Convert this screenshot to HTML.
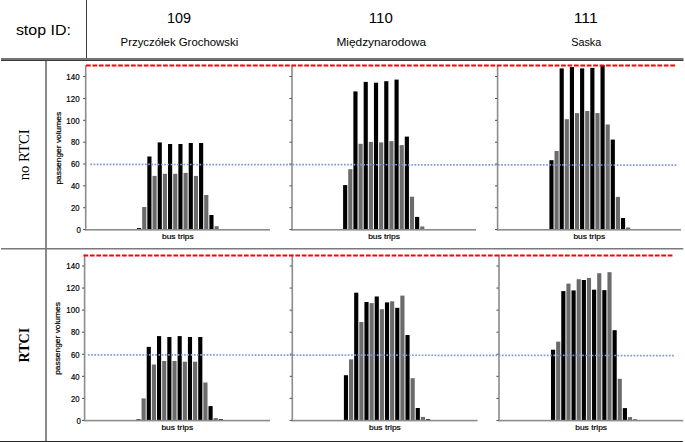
<!DOCTYPE html>
<html><head><meta charset="utf-8"><title>stop ID chart grid</title>
<style>
html,body{margin:0;padding:0;background:#fff;}
body{width:685px;height:442px;overflow:hidden;position:relative;}
svg{position:absolute;left:0;top:0;display:block;}
text{font-family:"Liberation Sans",sans-serif;fill:#000;}
text.ct{stroke:#000;stroke-width:0.2px;}
text.serif{font-family:"Liberation Serif",serif;}
</style></head><body>
<svg width="685" height="442" viewBox="0 0 685 442">
<rect x="86" y="0" width="1" height="58" fill="#3a3a3a"/>
<rect x="1" y="58" width="682.5" height="2" fill="#747474"/>
<rect x="1" y="60" width="682.5" height="1" fill="#383838"/>
<rect x="45" y="61" width="2" height="380" fill="#8a8a8a"/>
<rect x="1" y="248" width="682.3" height="1.5" fill="#7a7a7a"/>
<rect x="0" y="441" width="683" height="1" fill="#262626"/>
<rect x="137" y="228.1" width="4.15" height="1.5" fill="#000"/>
<rect x="142.17" y="207" width="4.15" height="22.6" fill="#6b6b6b"/>
<rect x="147.34" y="156.5" width="4.15" height="73.1" fill="#000"/>
<rect x="152.51" y="175.9" width="4.15" height="53.7" fill="#6b6b6b"/>
<rect x="157.68" y="142.4" width="4.15" height="87.2" fill="#000"/>
<rect x="162.85" y="173.8" width="4.15" height="55.8" fill="#6b6b6b"/>
<rect x="168.02" y="144" width="4.15" height="85.6" fill="#000"/>
<rect x="173.19" y="173.8" width="4.15" height="55.8" fill="#6b6b6b"/>
<rect x="178.36" y="144" width="4.15" height="85.6" fill="#000"/>
<rect x="183.53" y="172.9" width="4.15" height="56.7" fill="#6b6b6b"/>
<rect x="188.7" y="143" width="4.15" height="86.6" fill="#000"/>
<rect x="193.87" y="175.9" width="4.15" height="53.7" fill="#6b6b6b"/>
<rect x="199.04" y="143" width="4.15" height="86.6" fill="#000"/>
<rect x="204.21" y="195" width="4.15" height="34.6" fill="#6b6b6b"/>
<rect x="209.38" y="215" width="4.15" height="14.6" fill="#000"/>
<rect x="214.55" y="226.2" width="4.15" height="3.4" fill="#6b6b6b"/>
<rect x="84.9" y="65.2" width="1.6" height="165.1" fill="#8c8c8c"/>
<rect x="84.9" y="229" width="185.1" height="1.6" fill="#8c8c8c"/>
<rect x="83.1" y="229.15" width="2.2" height="0.9" fill="#3c3c3c"/>
<rect x="83.1" y="207.29" width="2.2" height="0.9" fill="#3c3c3c"/>
<rect x="83.1" y="185.43" width="2.2" height="0.9" fill="#3c3c3c"/>
<rect x="83.1" y="163.57" width="2.2" height="0.9" fill="#3c3c3c"/>
<rect x="83.1" y="141.71" width="2.2" height="0.9" fill="#3c3c3c"/>
<rect x="83.1" y="119.85" width="2.2" height="0.9" fill="#3c3c3c"/>
<rect x="83.1" y="97.99" width="2.2" height="0.9" fill="#3c3c3c"/>
<rect x="83.1" y="76.13" width="2.2" height="0.9" fill="#3c3c3c"/>
<text class="ct" x="177.85" y="239" font-size="7.9" text-anchor="middle" textLength="31.7" lengthAdjust="spacingAndGlyphs">bus trips</text>
<text class="ct" x="81" y="232.9" font-size="9" text-anchor="end" textLength="4.4" lengthAdjust="spacingAndGlyphs">0</text>
<text class="ct" x="79.6" y="211.04" font-size="9" text-anchor="end" textLength="8.6" lengthAdjust="spacingAndGlyphs">20</text>
<text class="ct" x="79.6" y="189.18" font-size="9" text-anchor="end" textLength="8.6" lengthAdjust="spacingAndGlyphs">40</text>
<text class="ct" x="79.6" y="167.32" font-size="9" text-anchor="end" textLength="8.6" lengthAdjust="spacingAndGlyphs">60</text>
<text class="ct" x="79.6" y="145.46" font-size="9" text-anchor="end" textLength="8.6" lengthAdjust="spacingAndGlyphs">80</text>
<text class="ct" x="79.6" y="123.6" font-size="9" text-anchor="end" textLength="13.3" lengthAdjust="spacingAndGlyphs">100</text>
<text class="ct" x="79.6" y="101.74" font-size="9" text-anchor="end" textLength="13.3" lengthAdjust="spacingAndGlyphs">120</text>
<text class="ct" x="79.6" y="79.88" font-size="9" text-anchor="end" textLength="13.3" lengthAdjust="spacingAndGlyphs">140</text>
<text class="ct" transform="translate(61.3,148.25) rotate(-90)" font-size="7.8" text-anchor="middle" textLength="72.7" lengthAdjust="spacingAndGlyphs">passenger volumes</text>
<rect x="343.1" y="185.1" width="4.15" height="44.5" fill="#000"/>
<rect x="348.24" y="169.2" width="4.15" height="60.4" fill="#6b6b6b"/>
<rect x="353.38" y="91.4" width="4.15" height="138.2" fill="#000"/>
<rect x="358.52" y="143.8" width="4.15" height="85.8" fill="#6b6b6b"/>
<rect x="363.66" y="81.9" width="4.15" height="147.7" fill="#000"/>
<rect x="368.8" y="141.9" width="4.15" height="87.7" fill="#6b6b6b"/>
<rect x="373.94" y="82.7" width="4.15" height="146.9" fill="#000"/>
<rect x="379.08" y="142.4" width="4.15" height="87.2" fill="#6b6b6b"/>
<rect x="384.22" y="81.2" width="4.15" height="148.4" fill="#000"/>
<rect x="389.36" y="141.1" width="4.15" height="88.5" fill="#6b6b6b"/>
<rect x="394.5" y="79.6" width="4.15" height="150" fill="#000"/>
<rect x="399.64" y="145.1" width="4.15" height="84.5" fill="#6b6b6b"/>
<rect x="404.78" y="136.6" width="4.15" height="93" fill="#000"/>
<rect x="409.92" y="196.7" width="4.15" height="32.9" fill="#6b6b6b"/>
<rect x="415.06" y="216.9" width="4.15" height="12.7" fill="#000"/>
<rect x="420.2" y="226.5" width="4.15" height="3.1" fill="#6b6b6b"/>
<rect x="291.2" y="65.2" width="1.6" height="165.1" fill="#8c8c8c"/>
<rect x="291.2" y="229" width="184.8" height="1.6" fill="#8c8c8c"/>
<rect x="289.4" y="229.15" width="2.2" height="0.9" fill="#3c3c3c"/>
<rect x="289.4" y="207.29" width="2.2" height="0.9" fill="#3c3c3c"/>
<rect x="289.4" y="185.43" width="2.2" height="0.9" fill="#3c3c3c"/>
<rect x="289.4" y="163.57" width="2.2" height="0.9" fill="#3c3c3c"/>
<rect x="289.4" y="141.71" width="2.2" height="0.9" fill="#3c3c3c"/>
<rect x="289.4" y="119.85" width="2.2" height="0.9" fill="#3c3c3c"/>
<rect x="289.4" y="97.99" width="2.2" height="0.9" fill="#3c3c3c"/>
<rect x="289.4" y="76.13" width="2.2" height="0.9" fill="#3c3c3c"/>
<text class="ct" x="384" y="239" font-size="7.9" text-anchor="middle" textLength="31.7" lengthAdjust="spacingAndGlyphs">bus trips</text>
<rect x="549.4" y="160.2" width="4.15" height="69.4" fill="#000"/>
<rect x="554.51" y="151" width="4.15" height="78.6" fill="#6b6b6b"/>
<rect x="559.62" y="68.4" width="4.15" height="161.2" fill="#000"/>
<rect x="564.73" y="119.2" width="4.15" height="110.4" fill="#6b6b6b"/>
<rect x="569.84" y="67.1" width="4.15" height="162.5" fill="#000"/>
<rect x="574.95" y="113.1" width="4.15" height="116.5" fill="#6b6b6b"/>
<rect x="580.06" y="68.4" width="4.15" height="161.2" fill="#000"/>
<rect x="585.17" y="111" width="4.15" height="118.6" fill="#6b6b6b"/>
<rect x="590.28" y="67.9" width="4.15" height="161.7" fill="#000"/>
<rect x="595.39" y="113.1" width="4.15" height="116.5" fill="#6b6b6b"/>
<rect x="600.5" y="65.2" width="4.15" height="164.4" fill="#000"/>
<rect x="605.61" y="124.5" width="4.15" height="105.1" fill="#6b6b6b"/>
<rect x="610.72" y="139.6" width="4.15" height="90" fill="#000"/>
<rect x="615.83" y="196.9" width="4.15" height="32.7" fill="#6b6b6b"/>
<rect x="620.94" y="218" width="4.15" height="11.6" fill="#000"/>
<rect x="626.05" y="227.5" width="4.15" height="2.1" fill="#6b6b6b"/>
<rect x="496.8" y="65.2" width="1.6" height="165.1" fill="#8c8c8c"/>
<rect x="496.8" y="229" width="184.2" height="1.6" fill="#8c8c8c"/>
<rect x="495" y="229.15" width="2.2" height="0.9" fill="#3c3c3c"/>
<rect x="495" y="207.29" width="2.2" height="0.9" fill="#3c3c3c"/>
<rect x="495" y="185.43" width="2.2" height="0.9" fill="#3c3c3c"/>
<rect x="495" y="163.57" width="2.2" height="0.9" fill="#3c3c3c"/>
<rect x="495" y="141.71" width="2.2" height="0.9" fill="#3c3c3c"/>
<rect x="495" y="119.85" width="2.2" height="0.9" fill="#3c3c3c"/>
<rect x="495" y="97.99" width="2.2" height="0.9" fill="#3c3c3c"/>
<rect x="495" y="76.13" width="2.2" height="0.9" fill="#3c3c3c"/>
<text class="ct" x="589.3" y="239" font-size="7.9" text-anchor="middle" textLength="31.7" lengthAdjust="spacingAndGlyphs">bus trips</text>
<line x1="86" y1="65.5" x2="675.5" y2="65.5" stroke="#ff0000" stroke-width="1.8" stroke-dasharray="4.75 1.67"/>
<line x1="90.35" y1="164.4" x2="676.3" y2="165.1" stroke="#7d99dd" stroke-width="1.7" stroke-dasharray="1.7 1.51"/>
<rect x="136.4" y="419.3" width="4.15" height="1.1" fill="#000"/>
<rect x="141.55" y="398.4" width="4.15" height="22" fill="#6b6b6b"/>
<rect x="146.7" y="346.9" width="4.15" height="73.5" fill="#000"/>
<rect x="151.85" y="364.5" width="4.15" height="55.9" fill="#6b6b6b"/>
<rect x="157" y="336.1" width="4.15" height="84.3" fill="#000"/>
<rect x="162.15" y="361" width="4.15" height="59.4" fill="#6b6b6b"/>
<rect x="167.3" y="337" width="4.15" height="83.4" fill="#000"/>
<rect x="172.45" y="361" width="4.15" height="59.4" fill="#6b6b6b"/>
<rect x="177.6" y="336.1" width="4.15" height="84.3" fill="#000"/>
<rect x="182.75" y="361.7" width="4.15" height="58.7" fill="#6b6b6b"/>
<rect x="187.9" y="337" width="4.15" height="83.4" fill="#000"/>
<rect x="193.05" y="361.7" width="4.15" height="58.7" fill="#6b6b6b"/>
<rect x="198.2" y="337" width="4.15" height="83.4" fill="#000"/>
<rect x="203.35" y="382.5" width="4.15" height="37.9" fill="#6b6b6b"/>
<rect x="208.5" y="406.1" width="4.15" height="14.3" fill="#000"/>
<rect x="213.65" y="418.1" width="4.15" height="2.3" fill="#6b6b6b"/>
<rect x="218.8" y="419.2" width="4.15" height="1.2" fill="#000"/>
<rect x="83.8" y="254.5" width="1.6" height="166.6" fill="#8c8c8c"/>
<rect x="83.8" y="419.8" width="186.2" height="1.6" fill="#8c8c8c"/>
<rect x="82" y="419.95" width="2.2" height="0.9" fill="#3c3c3c"/>
<rect x="82" y="397.89" width="2.2" height="0.9" fill="#3c3c3c"/>
<rect x="82" y="375.83" width="2.2" height="0.9" fill="#3c3c3c"/>
<rect x="82" y="353.77" width="2.2" height="0.9" fill="#3c3c3c"/>
<rect x="82" y="331.71" width="2.2" height="0.9" fill="#3c3c3c"/>
<rect x="82" y="309.65" width="2.2" height="0.9" fill="#3c3c3c"/>
<rect x="82" y="287.59" width="2.2" height="0.9" fill="#3c3c3c"/>
<rect x="82" y="265.53" width="2.2" height="0.9" fill="#3c3c3c"/>
<text class="ct" x="177.3" y="429.7" font-size="7.9" text-anchor="middle" textLength="31.7" lengthAdjust="spacingAndGlyphs">bus trips</text>
<text class="ct" x="81" y="423.7" font-size="9" text-anchor="end" textLength="4.4" lengthAdjust="spacingAndGlyphs">0</text>
<text class="ct" x="79.6" y="401.64" font-size="9" text-anchor="end" textLength="8.6" lengthAdjust="spacingAndGlyphs">20</text>
<text class="ct" x="79.6" y="379.58" font-size="9" text-anchor="end" textLength="8.6" lengthAdjust="spacingAndGlyphs">40</text>
<text class="ct" x="79.6" y="357.52" font-size="9" text-anchor="end" textLength="8.6" lengthAdjust="spacingAndGlyphs">60</text>
<text class="ct" x="79.6" y="335.46" font-size="9" text-anchor="end" textLength="8.6" lengthAdjust="spacingAndGlyphs">80</text>
<text class="ct" x="79.6" y="313.4" font-size="9" text-anchor="end" textLength="13.3" lengthAdjust="spacingAndGlyphs">100</text>
<text class="ct" x="79.6" y="291.34" font-size="9" text-anchor="end" textLength="13.3" lengthAdjust="spacingAndGlyphs">120</text>
<text class="ct" x="79.6" y="269.28" font-size="9" text-anchor="end" textLength="13.3" lengthAdjust="spacingAndGlyphs">140</text>
<text class="ct" transform="translate(60.3,338.5) rotate(-90)" font-size="7.8" text-anchor="middle" textLength="72.7" lengthAdjust="spacingAndGlyphs">passenger volumes</text>
<rect x="343.9" y="375.2" width="4.15" height="45.2" fill="#000"/>
<rect x="349.03" y="359.4" width="4.15" height="61" fill="#6b6b6b"/>
<rect x="354.16" y="292.7" width="4.15" height="127.7" fill="#000"/>
<rect x="359.29" y="322" width="4.15" height="98.4" fill="#6b6b6b"/>
<rect x="364.42" y="302" width="4.15" height="118.4" fill="#000"/>
<rect x="369.55" y="303.1" width="4.15" height="117.3" fill="#6b6b6b"/>
<rect x="374.68" y="296.5" width="4.15" height="123.9" fill="#000"/>
<rect x="379.81" y="309.2" width="4.15" height="111.2" fill="#6b6b6b"/>
<rect x="384.94" y="302.4" width="4.15" height="118" fill="#000"/>
<rect x="390.07" y="301.3" width="4.15" height="119.1" fill="#6b6b6b"/>
<rect x="395.2" y="307.8" width="4.15" height="112.6" fill="#000"/>
<rect x="400.33" y="295.6" width="4.15" height="124.8" fill="#6b6b6b"/>
<rect x="405.46" y="335" width="4.15" height="85.4" fill="#000"/>
<rect x="410.59" y="378.2" width="4.15" height="42.2" fill="#6b6b6b"/>
<rect x="415.72" y="408" width="4.15" height="12.4" fill="#000"/>
<rect x="420.85" y="416.9" width="4.15" height="3.5" fill="#6b6b6b"/>
<rect x="425.98" y="419.2" width="4.15" height="1.2" fill="#000"/>
<rect x="291.5" y="254.5" width="1.6" height="166.6" fill="#8c8c8c"/>
<rect x="291.5" y="419.8" width="186" height="1.6" fill="#8c8c8c"/>
<rect x="289.7" y="419.95" width="2.2" height="0.9" fill="#3c3c3c"/>
<rect x="289.7" y="397.89" width="2.2" height="0.9" fill="#3c3c3c"/>
<rect x="289.7" y="375.83" width="2.2" height="0.9" fill="#3c3c3c"/>
<rect x="289.7" y="353.77" width="2.2" height="0.9" fill="#3c3c3c"/>
<rect x="289.7" y="331.71" width="2.2" height="0.9" fill="#3c3c3c"/>
<rect x="289.7" y="309.65" width="2.2" height="0.9" fill="#3c3c3c"/>
<rect x="289.7" y="287.59" width="2.2" height="0.9" fill="#3c3c3c"/>
<rect x="289.7" y="265.53" width="2.2" height="0.9" fill="#3c3c3c"/>
<text class="ct" x="384.9" y="429.7" font-size="7.9" text-anchor="middle" textLength="31.7" lengthAdjust="spacingAndGlyphs">bus trips</text>
<rect x="551" y="349.7" width="4.15" height="70.7" fill="#000"/>
<rect x="556.13" y="341.6" width="4.15" height="78.8" fill="#6b6b6b"/>
<rect x="561.26" y="291.1" width="4.15" height="129.3" fill="#000"/>
<rect x="566.39" y="283.6" width="4.15" height="136.8" fill="#6b6b6b"/>
<rect x="571.52" y="290.4" width="4.15" height="130" fill="#000"/>
<rect x="576.65" y="279.2" width="4.15" height="141.2" fill="#6b6b6b"/>
<rect x="581.78" y="280" width="4.15" height="140.4" fill="#000"/>
<rect x="586.91" y="277.9" width="4.15" height="142.5" fill="#6b6b6b"/>
<rect x="592.04" y="289.7" width="4.15" height="130.7" fill="#000"/>
<rect x="597.17" y="273.2" width="4.15" height="147.2" fill="#6b6b6b"/>
<rect x="602.3" y="290.1" width="4.15" height="130.3" fill="#000"/>
<rect x="607.43" y="272.2" width="4.15" height="148.2" fill="#6b6b6b"/>
<rect x="612.56" y="330.2" width="4.15" height="90.2" fill="#000"/>
<rect x="617.69" y="378.8" width="4.15" height="41.6" fill="#6b6b6b"/>
<rect x="622.82" y="408.1" width="4.15" height="12.3" fill="#000"/>
<rect x="627.95" y="417.1" width="4.15" height="3.3" fill="#6b6b6b"/>
<rect x="633.08" y="419.5" width="4.15" height="0.9" fill="#000"/>
<rect x="498.2" y="254.5" width="1.6" height="166.6" fill="#8c8c8c"/>
<rect x="498.2" y="419.8" width="185.1" height="1.6" fill="#8c8c8c"/>
<rect x="496.4" y="419.95" width="2.2" height="0.9" fill="#3c3c3c"/>
<rect x="496.4" y="397.89" width="2.2" height="0.9" fill="#3c3c3c"/>
<rect x="496.4" y="375.83" width="2.2" height="0.9" fill="#3c3c3c"/>
<rect x="496.4" y="353.77" width="2.2" height="0.9" fill="#3c3c3c"/>
<rect x="496.4" y="331.71" width="2.2" height="0.9" fill="#3c3c3c"/>
<rect x="496.4" y="309.65" width="2.2" height="0.9" fill="#3c3c3c"/>
<rect x="496.4" y="287.59" width="2.2" height="0.9" fill="#3c3c3c"/>
<rect x="496.4" y="265.53" width="2.2" height="0.9" fill="#3c3c3c"/>
<text class="ct" x="591.15" y="429.7" font-size="7.9" text-anchor="middle" textLength="31.7" lengthAdjust="spacingAndGlyphs">bus trips</text>
<line x1="83.5" y1="255.5" x2="672.5" y2="255.5" stroke="#ff0000" stroke-width="1.8" stroke-dasharray="4.7 1.72"/>
<line x1="87.85" y1="354.8" x2="673.8" y2="355.6" stroke="#7d99dd" stroke-width="1.7" stroke-dasharray="1.7 1.51"/>
<text x="15.9" y="34.6" font-size="15.4" textLength="55" lengthAdjust="spacingAndGlyphs">stop ID:</text>
<text x="178.9" y="22.8" font-size="14" text-anchor="middle" textLength="24" lengthAdjust="spacingAndGlyphs">109</text>
<text x="179.4" y="45.8" font-size="10.6" text-anchor="middle" textLength="117.7" lengthAdjust="spacingAndGlyphs">Przyczółek Grochowski</text>
<text x="380.8" y="22.8" font-size="14" text-anchor="middle" textLength="24" lengthAdjust="spacingAndGlyphs">110</text>
<text x="381.3" y="45.8" font-size="10.6" text-anchor="middle" textLength="89.6" lengthAdjust="spacingAndGlyphs">Międzynarodowa</text>
<text x="585.7" y="22.8" font-size="14" text-anchor="middle" textLength="24" lengthAdjust="spacingAndGlyphs">111</text>
<text x="586.2" y="45.8" font-size="10.6" text-anchor="middle" textLength="30" lengthAdjust="spacingAndGlyphs">Saska</text>
<text transform="translate(29.3,154.8) rotate(-90)" class="serif" font-size="14.8" text-anchor="middle" textLength="51" lengthAdjust="spacingAndGlyphs">no RTCI</text>
<text transform="translate(29.3,345.2) rotate(-90)" class="serif" font-weight="bold" font-size="14.5" text-anchor="middle" textLength="34.6" lengthAdjust="spacingAndGlyphs">RTCI</text>
</svg>
</body></html>
